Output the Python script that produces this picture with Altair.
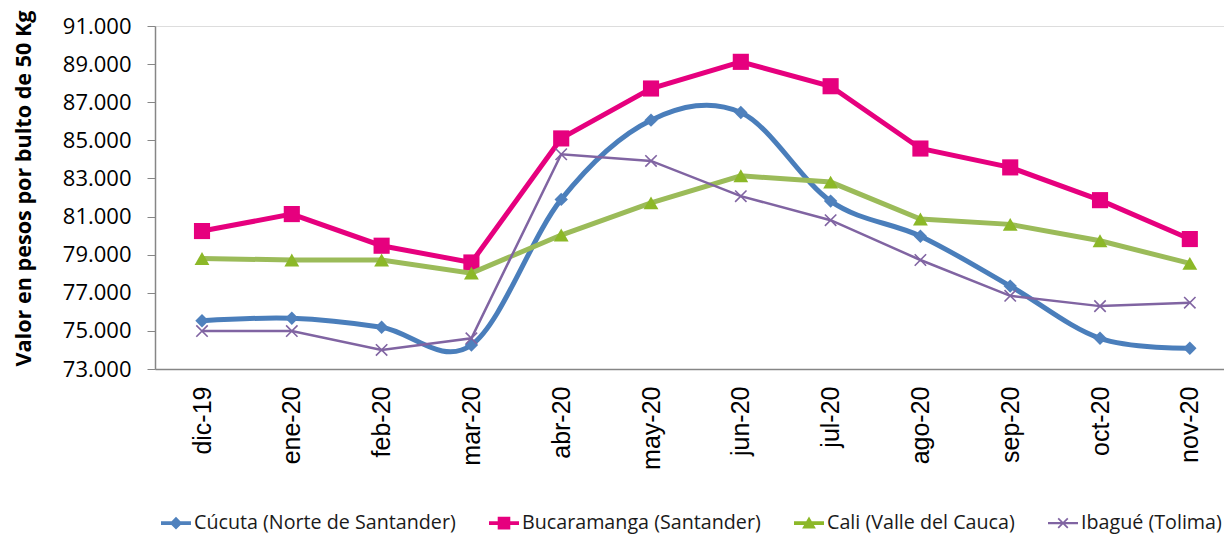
import altair as alt
import pandas as pd

meses = ["dic-19", "ene-20", "feb-20", "mar-20", "abr-20", "may-20",
         "jun-20", "jul-20", "ago-20", "sep-20", "oct-20", "nov-20"]

series = ["Cúcuta (Norte de Santander)", "Bucaramanga (Santander)",
          "Cali (Valle del Cauca)", "Ibagué (Tolima)"]

cucuta = [75530, 75660, 75190, 74260, 81900, 86060, 86460, 81810, 79970, 77350, 74610, 74090]
bucaramanga = [80240, 81130, 79470, 78590, 85100, 87720, 89120, 87840, 84570, 83580, 81860, 79820]
cali = [78800, 78720, 78720, 78030, 80030, 81720, 83140, 82810, 80870, 80590, 79730, 78540]
ibague = [74990, 74990, 74000, 74610, 84270, 83920, 82070, 80810, 78720, 76840, 76300, 76480]

valores = [cucuta, bucaramanga, cali, ibague]

line_colors = ["#4A7EBB", "#E6007E", "#9BBB59", "#8064A2"]
marker_colors = ["#4F81BD", "#E6007E", "#8CB828", "#8064A2"]
line_widths = [5, 5, 5, 2.5]
interps = ["cardinal", "linear", "linear", "linear"]
marker_shapes = ["diamond", "square", "triangle-up", "M-1,-1L1,1M-1,1L1,-1"]
marker_sizes = [180, 260, 220, 130]
marker_filled = [True, True, True, False]

legend_paths = [
    "M-1,-0.13H1V0.13H-1Z M0,-0.42L0.42,0L0,0.42L-0.42,0Z",
    "M-1,-0.13H1V0.13H-1Z M-0.42,-0.42H0.42V0.42H-0.42Z",
    "M-1,-0.13H1V0.13H-1Z M0,-0.45L0.46,0.36L-0.46,0.36Z",
    "M-1,-0.08H1V0.08H-1Z M-0.36,-0.28L-0.28,-0.36L0.36,0.28L0.28,0.36Z M0.28,-0.36L0.36,-0.28L-0.28,0.36L-0.36,0.28Z",
]

rows = []
for s, vals in zip(series, valores):
    for m, v in zip(meses, vals):
        rows.append({"mes": m, "serie": s, "valor": v})
df = pd.DataFrame(rows)

W = 1069
H = 343

x_enc = alt.X("mes:N", sort=meses,
              scale=alt.Scale(domain=meses, padding=0.452, align=0.579),
              axis=alt.Axis(title=None, labelAngle=-90, labelFont="Liberation Sans",
                            labelFontSize=25, labelColor="#000000", ticks=False,
                            labelPadding=17, domainColor="#868686", domainWidth=1.5,
                            grid=False))
y_enc = alt.Y("valor:Q", scale=alt.Scale(domain=[73000, 91000], nice=False, zero=False),
              axis=alt.Axis(title="Valor en pesos por bulto de 50 Kg",
                            values=list(range(73000, 91001, 2000)),
                            labelExpr="format(datum.value / 1000, '.3f')",
                            labelFont="Open Sans", labelFontSize=22, labelColor="#000000",
                            labelPadding=16, tickSize=8, tickColor="#868686",
                            domainColor="#868686", domainWidth=1.5,
                            titleFont="Open Sans", titleFontSize=21.6, titleFontWeight="bold",
                            titleColor="#000000", titlePadding=27, titleY=162,
                            grid=False))

layers = []
for i, s in enumerate(series):
    sub = df[df["serie"] == s]
    base = alt.Chart(sub)
    layers.append(base.mark_line(color=line_colors[i], strokeWidth=line_widths[i],
                                 interpolate=interps[i]).encode(x=x_enc, y=y_enc))
    if marker_filled[i]:
        pm = base.mark_point(shape=marker_shapes[i], size=marker_sizes[i], filled=True,
                             color=marker_colors[i], opacity=1)
    else:
        pm = base.mark_point(shape=marker_shapes[i], size=marker_sizes[i], filled=False,
                             color=marker_colors[i], strokeWidth=1.6, opacity=1)
    layers.append(pm.encode(x=x_enc, y=y_enc))

# legend-only layer: no rows survive the filter, the legend comes from the explicit domains
legend_layer = alt.Chart(df).transform_filter(alt.datum.valor < 0).mark_point(
    filled=True, opacity=1, size=900).encode(
    x=x_enc, y=y_enc,
    fill=alt.Fill("serie:N", sort=series,
                  scale=alt.Scale(domain=series, range=marker_colors),
                  legend=alt.Legend(title=None, orient="none", legendX=6, legendY=482,
                                    direction="horizontal", columns=4, columnPadding=33,
                                    labelFont="Open Sans", labelFontSize=19.7,
                                    labelColor="#1a1a1a", labelOffset=3,
                                    symbolSize=900, symbolOpacity=1, symbolStrokeWidth=0,
                                    labelLimit=400)),
    shape=alt.Shape("serie:N", sort=series,
                    scale=alt.Scale(domain=series, range=legend_paths)),
)
layers.insert(0, legend_layer)

chart = alt.layer(*layers).properties(
    width=W, height=H,
    autosize=alt.AutoSizeParams(type="none"),
    padding={"left": 147, "top": 18, "right": 0, "bottom": 166},
).configure_view(stroke=None).configure(background="white")

chart.save("out.html", embed_options={"renderer": "svg", "actions": False})
